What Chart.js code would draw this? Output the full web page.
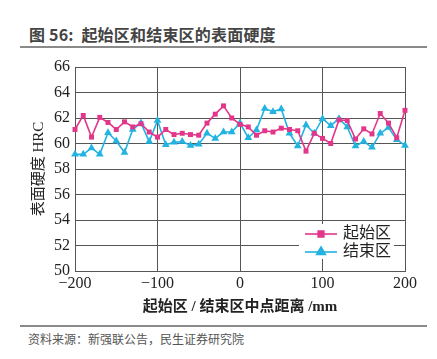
<!DOCTYPE html>
<html>
<head>
<meta charset="utf-8">
<script src="https://cdn.jsdelivr.net/npm/chart.js@4.4.0/dist/chart.umd.min.js"></script>
<style>
  body { margin: 0; width: 437px; height: 359px; background: #fff; position: relative; overflow: hidden; font-family: 'Noto Sans CJK SC', sans-serif; }
  #titulo { position: absolute; left: 29px; top: 22px; font-size: 16px; font-weight: bold; color: #444; letter-spacing: 0.2px; }
  #linha1 { position: absolute; left: 20px; top: 46px; width: 407px; height: 2px; background: #8a8a8a; }
  #grafico { position: absolute; left: 0; top: 0; }
  #linha2 { position: absolute; left: 20px; top: 325px; width: 407px; height: 2px; background: #8a8a8a; }
  #fonte { position: absolute; left: 28px; top: 330px; font-size: 12px; color: #555; }
</style>
</head>
<body>
<div id="titulo">图 56:&nbsp; 起始区和结束区的表面硬度</div>
<div id="linha1"></div>
<canvas id="grafico" width="437" height="322"></canvas>
<div id="linha2"></div>
<div id="fonte">资料来源：新强联公告，民生证券研究院</div>
<script>
// distância ao ponto médio (mm)
const distancias = [-200, -190, -180, -170, -160, -150, -140, -130, -120, -110, -100, -90, -80, -70, -60, -50, -40, -30, -20, -10,
  0, 10, 20, 30, 40, 50, 60, 70, 80, 90, 100, 110, 120, 130, 140, 150, 160, 170, 180, 190, 200];

// 起始区
const inicio = [61.1, 62.2, 60.5, 62.05, 61.65, 61.1, 61.7, 61.3, 61.55, 60.9, 60.5, 61.1, 60.7, 60.8, 60.7, 60.65, 61.6, 62.3, 62.95, 62.0,
  61.5, 61.3, 60.65, 61.0, 60.9, 61.2, 61.1, 61.0, 59.4, 60.8, 60.4, 60.0, 61.85, 61.8, 60.35, 61.15, 60.75, 62.35, 61.6, 60.45, 62.6];

// 结束区
const fim = [59.15, 59.15, 59.65, 59.15, 60.85, 60.2, 59.3, 61.1, 61.6, 60.15, 61.8, 59.9, 60.1, 60.15, 59.85, 59.95, 60.8, 60.4, 60.9, 60.9,
  61.6, 60.45, 61.05, 62.75, 62.5, 62.7, 60.8, 59.8, 61.45, 60.8, 61.95, 61.4, 61.95, 61.3, 59.8, 60.15, 59.7, 60.8, 61.25, 60.3, 59.85];

const ticksY = [50, 52, 54, 56, 58, 60, 62, 64, 66];
const ticksX = [-200, -100, 0, 100, 200];

const rosa = '#e3358a';
const ciano = '#22b3e0';
const fonteSerif = "'Liberation Serif', 'Noto Sans CJK SC', serif";

// Legenda desenhada dentro da área do gráfico
const legendaInterna = {
  id: 'legendaInterna',
  afterDraw(chart) {
    const ctx = chart.ctx;
    ctx.save();
    ctx.fillStyle = '#fff';
    ctx.fillRect(299, 224, 95, 35);
    chart.data.datasets.forEach((ds, i) => {
      const y = 234 + i * 18;
      ctx.strokeStyle = ds.borderColor;
      ctx.lineWidth = 1.6;
      ctx.beginPath();
      ctx.moveTo(305, y);
      ctx.lineTo(337, y);
      ctx.stroke();
      Chart.helpers.drawPoint(ctx, {
        pointStyle: ds.pointStyle, radius: ds.pointRadius + 0.5, rotation: 0, borderWidth: 1
      }, 321, y);
      ctx.fillStyle = ds.borderColor;
      ctx.fill();
      ctx.fillStyle = '#222';
      ctx.font = "16px " + fonteSerif;
      ctx.textBaseline = 'middle';
      ctx.fillText(ds.label, 343, y);
    });
    ctx.restore();
  }
};

const ctx = document.getElementById('grafico').getContext('2d');
new Chart(ctx, {
  type: 'line',
  data: {
    datasets: [
      {
        label: '起始区',
        data: distancias.map((d, i) => ({ x: d, y: inicio[i] })),
        borderColor: rosa,
        backgroundColor: rosa,
        borderWidth: 1.6,
        pointStyle: 'rect',
        pointRadius: 3.5,
        pointBorderWidth: 0,
        tension: 0,
        clip: false
      },
      {
        label: '结束区',
        data: distancias.map((d, i) => ({ x: d, y: fim[i] })),
        borderColor: ciano,
        backgroundColor: ciano,
        borderWidth: 1.6,
        pointStyle: 'triangle',
        pointRadius: 4.5,
        pointBorderWidth: 0,
        tension: 0,
        clip: false
      }
    ]
  },
  options: {
    responsive: false,
    animation: false,
    layout: { padding: { left: 30, right: 32, top: 67, bottom: 0 } },
    plugins: {
      legend: { display: false },
      tooltip: { enabled: false }
    },
    scales: {
      x: {
        type: 'linear',
        min: -200,
        max: 200,
        afterBuildTicks: s => { s.ticks = ticksX.map(v => ({ value: v })); },
        afterFit: s => { s.height = 51; },
        grid: { color: '#555', lineWidth: 1, drawTicks: false },
        border: { color: '#555', width: 1 },
        ticks: {
          color: '#222',
          padding: 3,
          maxRotation: 0,
          font: { family: fonteSerif, size: 16 },
          callback: v => v < 0 ? '\u2212' + Math.abs(v) : String(v)
        },
        title: {
          display: true,
          text: '起始区 / 结束区中点距离 /mm',
          color: '#222',
          font: { family: fonteSerif, size: 15, weight: 'bold' },
          padding: { top: 0, bottom: 6 }
        }
      },
      y: {
        min: 50,
        max: 66,
        afterBuildTicks: s => { s.ticks = ticksY.map(v => ({ value: v })); },
        afterFit: s => { s.width = 45; },
        grid: { color: '#555', lineWidth: 1, drawTicks: false },
        border: { color: '#555', width: 1 },
        ticks: {
          color: '#222',
          padding: 5,
          font: { family: fonteSerif, size: 16 }
        },
        title: {
          display: true,
          text: '表面硬度 HRC',
          color: '#222',
          font: { family: fonteSerif, size: 15 },
          padding: { top: 0, bottom: 2 }
        }
      }
    }
  },
  plugins: [legendaInterna]
});
</script>
</body>
</html>
